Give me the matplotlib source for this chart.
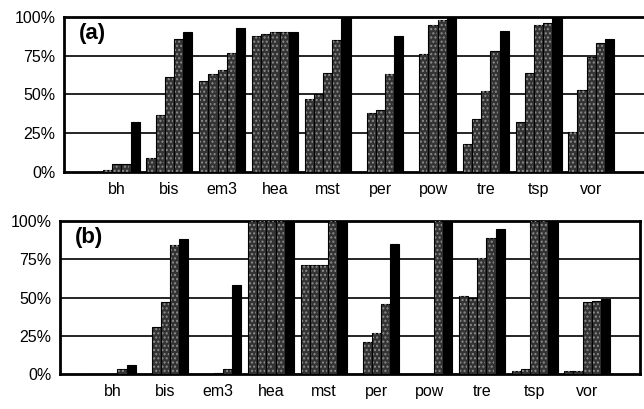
import numpy as np
import matplotlib
matplotlib.use("Agg")
import matplotlib.pyplot as plt

categories = ['bh', 'bis', 'em3', 'hea', 'mst', 'per', 'pow', 'tre', 'tsp', 'vor']
y_ticks = [0, 25, 50, 75, 100]
y_labels = ['0%', '25%', '50%', '75%', '100%']

# panel (a): five runs per category
a_s1 = [0, 9, 59, 88, 47, 0, 0, 18, 32, 26]
a_s2 = [1, 37, 63, 89, 50, 38, 76, 34, 64, 53]
a_s3 = [5, 61, 66, 90, 64, 40, 95, 52, 95, 74]
a_s4 = [5, 86, 77, 90, 85, 63, 98, 78, 96, 83]
a_s5 = [32, 90, 93, 90, 100, 88, 100, 91, 100, 86]

# panel (b)
b_s1 = [0, 0, 0, 100, 71, 0, 0, 51, 2, 2]
b_s2 = [0, 31, 0, 100, 71, 21, 0, 50, 3, 2]
b_s3 = [0, 47, 0.5, 100, 71, 27, 0, 76, 100, 47]
b_s4 = [3, 84, 3, 100, 100, 46, 100, 89, 100, 48]
b_s5 = [6, 88, 58, 100, 100, 85, 100, 95, 100, 49]

plt.rcParams['font.family'] = ['Liberation Sans', 'DejaVu Sans']
plt.rcParams['hatch.linewidth'] = 1.0

fig = plt.figure(figsize=(6.44, 4.09), dpi=100)
ax_a = fig.add_axes([64/644, 1-172/409, 580/644, 155/409])
ax_b = fig.add_axes([60/644, 1-374/409, 580/644, 153/409])

x = np.arange(len(categories))
bw = 0.1746

def draw(ax, series, tag):
    n = len(series)
    for i, s in enumerate(series):
        pos = x + (i - (n - 1) / 2) * bw
        if i < n - 1:
            ax.bar(pos, s, width=bw, color='#333333', edgecolor='black',
                   linewidth=0.8, zorder=3)
            ax.bar(pos, s, width=bw * 0.75, color='none', edgecolor='#8e8e8e',
                   hatch='....', linewidth=0, zorder=4)
        else:
            ax.bar(pos, s, width=bw, color='black', edgecolor='black',
                   linewidth=0.8, zorder=3)
    ax.set_xlim(-1, 10)
    ax.set_ylim(0, 100)
    ax.set_yticks(y_ticks)
    ax.set_yticklabels(y_labels, fontsize=11.5)
    ax.set_xticks(x)
    ax.set_xticklabels(categories, fontsize=11.5)
    ax.tick_params(length=0, pad=6)
    ax.tick_params(axis='x', pad=7)
    for yv in [25, 50, 75]:
        ax.axhline(yv, color='black', linewidth=1.2, zorder=2)
    for sp in ['left', 'top', 'bottom']:
        ax.spines[sp].set_linewidth(2.0)
    ax.spines['right'].set_visible(tag == '(b)')
    ax.spines['right'].set_linewidth(2.0)
    ax.text(0.025, 0.96, tag, transform=ax.transAxes, fontsize=16,
            fontweight='bold', va='top', ha='left', zorder=5)

draw(ax_a, [a_s1, a_s2, a_s3, a_s4, a_s5], '(a)')
draw(ax_b, [b_s1, b_s2, b_s3, b_s4, b_s5], '(b)')

fig.savefig('out.png', dpi=100)
